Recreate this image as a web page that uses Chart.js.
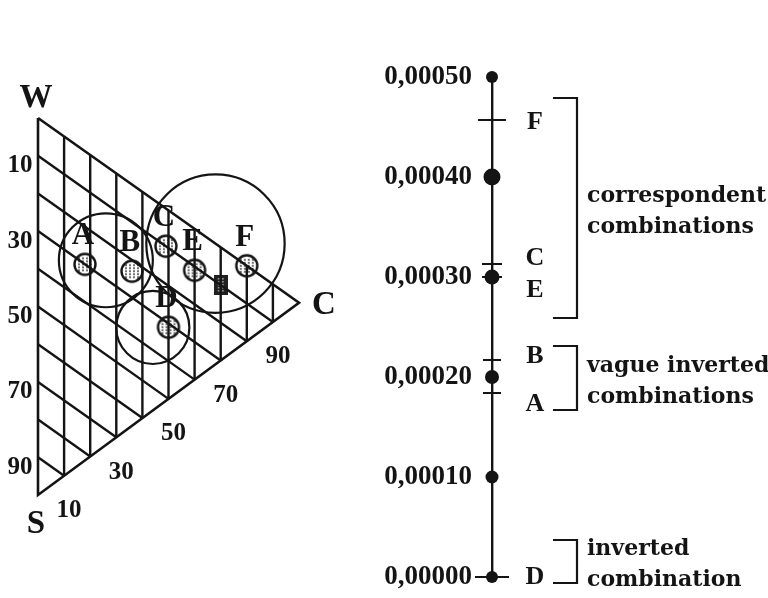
<!DOCTYPE html>
<html>
<head>
<meta charset="utf-8">
<script src="https://cdn.jsdelivr.net/npm/chart.js@4.4.0/dist/chart.umd.min.js"></script>
<style>
  body { margin: 0; background: #fff; }
  #wrap { position: relative; width: 768px; height: 598px; overflow: hidden; }
  canvas { position: absolute; top: 0; }
  #ternary { left: 0; }
  #scale { left: 370px; }
</style>
</head>
<body>
<div id="wrap">
  <canvas id="ternary" width="370" height="598"></canvas>
  <canvas id="scale" width="398" height="598"></canvas>
</div>
<script>
// ternary diagram: C share runs left->right, S share runs top->bottom, W is the rest
const pointLabels = ['A', 'B', 'C', 'D', 'E', 'F'];
const pointC = [0.18, 0.36, 0.49, 0.50, 0.60, 0.80];
const pointS = [0.30, 0.23, 0.10, 0.31, 0.11, 0.00];
const squareC = [0.70];
const squareS = [0.10];
const clusterC = [0.26, 0.44, 0.68];
const clusterS = [0.25, 0.34, 0.00];
const clusterR = [0.18, 0.14, 0.265];
const gridSteps = [0.1, 0.2, 0.3, 0.4, 0.5, 0.6, 0.7, 0.8, 0.9];
const axisTicks = [10, 30, 50, 70, 90];

// vertical scale on the right
const scaleValues = [0, 0.0001, 0.0002, 0.0003, 0.0004, 0.0005];
const scaleLabels = ['0,00000', '0,00010', '0,00020', '0,00030', '0,00040', '0,00050'];
const letterNames = ['F', 'C', 'E', 'B', 'A', 'D'];
const letterValues = [0.000457, 0.000313, 0.0003, 0.000217, 0.000184, 0];
const groupNames = [['correspondent', 'combinations'], ['vague inverted', 'combinations'], ['inverted', 'combination']];
const groupTop = [0.000479, 0.000231, 0.000037];
const groupBottom = [0.000259, 0.000167, -0.000006];

const INK = '#141414';
const NUM_FONT = 'bold 25px "Liberation Serif", serif';
const BIG_FONT = 'bold 31px "Liberation Serif", serif';
const TXT_FONT = 'bold 22px "DejaVu Serif", serif';

// skewed projection used by the original drawing
const SLANT = 0.49;
const toXY = (c, s) => ({ x: c, y: s + SLANT * c });

function lineSet(pts) {
    return { data: pts, showLine: true, borderColor: INK, borderWidth: 2.4, pointRadius: 0, clip: false, borderJoinStyle: 'miter' };
}

function hatchMarker() {
    const cv = document.createElement('canvas');
    cv.width = 26; cv.height = 26;
    const g = cv.getContext('2d');
    g.beginPath(); g.arc(13, 13, 10.5, 0, Math.PI * 2);
    g.fillStyle = '#fff'; g.fill();
    g.save(); g.clip();
    g.strokeStyle = '#444'; g.lineWidth = 1.5; g.setLineDash([2, 2]);
    for (let yy = 7; yy <= 20; yy += 3) {
        g.beginPath(); g.moveTo(6, yy); g.lineTo(21, yy); g.stroke();
    }
    g.restore();
    g.beginPath(); g.arc(13, 13, 10.5, 0, Math.PI * 2);
    g.lineWidth = 2.4; g.strokeStyle = INK; g.stroke();
    return cv;
}

function squareMarker() {
    const cv = document.createElement('canvas');
    cv.width = 14; cv.height = 20;
    const g = cv.getContext('2d');
    g.fillStyle = '#202020'; g.fillRect(0, 0, 14, 20);
    g.fillStyle = '#9a9a9a';
    for (let yy = 3; yy < 18; yy += 3) { g.fillRect(4, yy, 2, 1.5); g.fillRect(8, yy, 2, 1.5); }
    return cv;
}

// ---------- left: ternary grid ----------
const gridSets = [];
gridSteps.forEach(k => {
    gridSets.push(lineSet([toXY(k, 0), toXY(k, 1 - k)]));
    gridSets.push(lineSet([toXY(0, k), toXY(1 - k, k)]));
});
const frameSet = lineSet([toXY(0, 0), toXY(1, 0), toXY(0, 1), toXY(0, 0)]);
frameSet.borderWidth = 2.6;

const ternaryDecor = {
    id: 'ternaryDecor',
    beforeDatasetsDraw(chart) {
        const { ctx, scales: { x, y } } = chart;
        const unit = x.getPixelForValue(1) - x.getPixelForValue(0);
        ctx.save();
        ctx.strokeStyle = INK;
        ctx.lineWidth = 2.2;
        clusterC.forEach((c, i) => {
            const p = toXY(c, clusterS[i]);
            ctx.beginPath();
            ctx.arc(x.getPixelForValue(p.x), y.getPixelForValue(p.y), clusterR[i] * unit, 0, Math.PI * 2);
            ctx.stroke();
        });
        ctx.restore();
    },
    afterDatasetsDraw(chart) {
        const { ctx, scales: { x, y } } = chart;
        const px = (c, s) => { const p = toXY(c, s); return [x.getPixelForValue(p.x), y.getPixelForValue(p.y)]; };
        ctx.save();
        ctx.fillStyle = INK;
        ctx.textAlign = 'center';
        ctx.textBaseline = 'middle';

        ctx.font = BIG_FONT;
        pointLabels.forEach((lab, i) => {
            const [lx, ly] = px(pointC[i], pointS[i]);
            ctx.fillText(lab, lx - 2, ly - 28);
        });

        // corner names
        let [wx, wy] = px(0, 0);
        ctx.font = 'bold 33px "Liberation Serif", serif';
        ctx.fillText('W', wx - 2, wy - 20);
        let [sx, sy] = px(0, 1);
        ctx.fillText('S', sx - 2, sy + 29);
        let [cx, cy] = px(1, 0);
        ctx.fillText('C', cx + 25, cy + 3);

        // axis numbers
        ctx.font = NUM_FONT;
        axisTicks.forEach(t => {
            const [ax, ay] = px(0, t / 100);
            ctx.fillText(String(t), ax - 18, ay + 10);
            const [bx, by] = px(t / 100, 1 - t / 100);
            ctx.fillText(String(t), bx + 5, by + 35);
        });
        ctx.restore();
    }
};

new Chart(document.getElementById('ternary'), {
    type: 'scatter',
    data: {
        datasets: [
            ...gridSets,
            frameSet,
            {
                data: pointC.map((c, i) => toXY(c, pointS[i])),
                pointStyle: hatchMarker(),
                pointRadius: 10,
                clip: false
            },
            {
                data: squareC.map((c, i) => toXY(c, squareS[i])),
                pointStyle: squareMarker(),
                pointRadius: 10,
                clip: false
            }
        ]
    },
    options: {
        responsive: false,
        animation: false,
        layout: { padding: { left: 38, top: 118, right: 71, bottom: 103 } },
        plugins: { legend: { display: false }, tooltip: { enabled: false } },
        scales: {
            x: { type: 'linear', min: 0, max: 1, display: false },
            y: { type: 'linear', min: 0, max: 1, reverse: true, display: false }
        }
    },
    plugins: [ternaryDecor]
});

// ---------- right: vertical scale ----------
const dotSizes = [6, 6.5, 7, 7.5, 8.5, 6];
const crossSizes = [14, 10, 10, 9, 9, 17];
const labelNudge = { F: 2, C: -6, E: 13, B: -4, A: 11, D: 0 };

const scaleDecor = {
    id: 'scaleDecor',
    afterDatasetsDraw(chart) {
        const { ctx, scales: { y }, chartArea } = chart;
        const ax = chartArea.left;
        ctx.save();
        ctx.fillStyle = INK;
        ctx.strokeStyle = INK;

        ctx.font = 'bold 26px "Liberation Serif", serif';
        ctx.textAlign = 'center';
        ctx.textBaseline = 'middle';
        letterNames.forEach((n, i) => {
            ctx.fillText(n, ax + 43, y.getPixelForValue(letterValues[i]) + labelNudge[n]);
        });

        ctx.lineWidth = 2.2;
        ctx.font = TXT_FONT;
        ctx.textAlign = 'left';
        groupNames.forEach((lines, i) => {
            const top = y.getPixelForValue(groupTop[i]);
            const bot = y.getPixelForValue(groupBottom[i]);
            ctx.beginPath();
            ctx.moveTo(ax + 61, top);
            ctx.lineTo(ax + 85, top);
            ctx.lineTo(ax + 85, bot);
            ctx.lineTo(ax + 61, bot);
            ctx.stroke();
            const mid = (top + bot) / 2;
            ctx.fillText(lines[0], ax + 95, mid - 12);
            ctx.fillText(lines[1], ax + 95, mid + 19);
        });
        ctx.restore();
    }
};

new Chart(document.getElementById('scale'), {
    type: 'scatter',
    data: {
        datasets: [
            {
                data: letterValues.map(v => ({ x: 0, y: v })),
                pointStyle: 'line',
                pointRadius: crossSizes,
                borderColor: INK,
                borderWidth: 2,
                clip: false
            },
            {
                data: scaleValues.map(v => ({ x: 0, y: v })),
                pointStyle: 'circle',
                pointRadius: dotSizes,
                backgroundColor: INK,
                borderColor: INK,
                borderWidth: 0,
                clip: false
            }
        ]
    },
    options: {
        responsive: false,
        animation: false,
        layout: { padding: { left: 0, top: 77, right: 0, bottom: 21 } },
        plugins: { legend: { display: false }, tooltip: { enabled: false } },
        scales: {
            x: { type: 'linear', min: 0, max: 1, display: false },
            y: {
                type: 'linear',
                min: 0,
                max: 0.0005,
                afterBuildTicks: s => { s.ticks = scaleValues.map(v => ({ value: v })); },
                afterFit: s => {
                    s.width = 122;
                    // labels may overhang the plot, keep the axis ends where the picture has them
                    s.paddingTop = 0;
                    s.paddingBottom = 0;
                },
                grid: { display: false, drawTicks: false },
                border: { display: true, color: INK, width: 2.4 },
                ticks: {
                    padding: 20,
                    color: INK,
                    font: { family: '"Liberation Serif", serif', size: 27, weight: 'bold' },
                    callback: (v) => scaleLabels[scaleValues.indexOf(v)]
                }
            }
        }
    },
    plugins: [scaleDecor]
});
</script>
</body>
</html>
